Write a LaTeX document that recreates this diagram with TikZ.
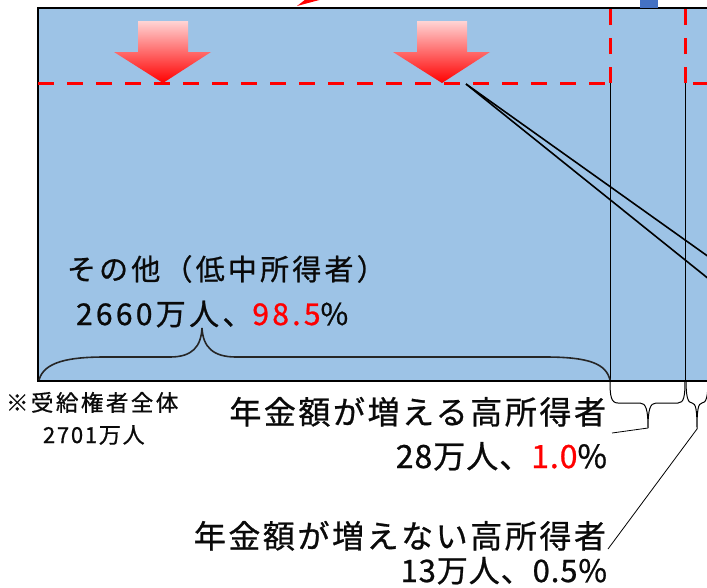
\documentclass[tikz,border=0pt]{standalone}
\usepackage{fontspec}
\setmainfont{Noto Sans CJK JP}
\newfontfamily\jp{Noto Sans CJK JP}[LetterSpace=8,FakeBold=0.8]
\newfontfamily\jpw{Noto Sans CJK JP}[LetterSpace=11,FakeBold=0.8]
\newfontfamily\jpn{Noto Sans CJK JP}[LetterSpace=3,FakeBold=0.8]
\definecolor{boxblue}{RGB}{157,195,230}
\definecolor{topblue}{RGB}{68,114,196}
\definecolor{pinktop}{RGB}{255,212,212}
\definecolor{txt}{RGB}{10,10,10}
\begin{document}
\begin{tikzpicture}[x=1pt,y=-1pt,
  redash/.style={draw=red, line width=3pt, dash pattern=on 16pt off 13pt},
  thin/.style={draw=black, line width=0.8pt},
  bracel/.style={draw=black, line width=1pt},
  bigbrace/.style={draw=black!85, line width=1.6pt},
  downarrow/.style={top color=pinktop, bottom color=red},
  lbl/.style={inner sep=0pt, outer sep=0pt, text=txt, font=\jp}
]
\useasboundingbox (0,0) rectangle (707,587);
\clip (0,0) rectangle (707,587);
% main box
\filldraw[fill=boxblue, draw=black, line width=2pt] (38,8) rectangle (730,380.5);
% top fragments
\fill[topblue] (640,-2) rectangle (658,8);
\fill[red] (297,6) -- (323,-1) -- (306,-1) -- cycle;
% thin verticals
\draw[thin] (610,83) -- (610,380.5);
\draw[thin] (685,83) -- (685,380.5);
% red dashed
\draw[redash] (38,83) -- (610,83);
\draw[redash] (610,83) -- (610,8);
\draw[redash] (685,83) -- (685,8);
\draw[redash, dash phase=21pt] (685,83) -- (730,83);
% arrows
\shade[downarrow] (138,21) -- (188,21) -- (188,52) -- (211,52) -- (163,83) -- (114,52) -- (138,52) -- cycle;
\shade[downarrow] (417,21) -- (467,21) -- (467,52) -- (490,52) -- (442,83) -- (393,52) -- (417,52) -- cycle;
% diagonal lines
\coordinate (dstart) at (466,84);
\coordinate (dend1) at (730,272);
\coordinate (dend2) at (730,296);
\draw[line width=1.6pt] (dstart) -- (dend1);
\draw[line width=1.6pt] (dstart) -- (dend2);
% big brace
\draw[bigbrace] (39,380) .. controls (44,362) and (68,357) .. (105,357) -- (170,357)
  .. controls (192,357) and (201,347) .. (202,328)
  .. controls (203,347) and (213,357) .. (236,357) -- (545,357)
  .. controls (590,357) and (606,364) .. (610,380);
% small braces
\coordinate (tip1) at (648,428);
\coordinate (tip2) at (697,429);
\draw[bracel] (610,381) .. controls (610,396) and (611,403) .. (618,403) -- (640,403)
  .. controls (646,403) and (648,410) .. (tip1)
  .. controls (648,410) and (650,403) .. (656,403) -- (678,403)
  .. controls (684,403) and (685,396) .. (685,381);
\draw[bracel] (686,381) .. controls (686,397) and (688,403) .. (692,403)
  .. controls (696,403) and (697,411) .. (tip2)
  .. controls (697,411) and (698,403) .. (702,403)
  .. controls (706,403) and (708,397) .. (708,381);
% labels
\node[lbl, anchor=base west, font=\jpw\fontsize{29}{32}\selectfont] (other) at (67,280) {その他（低中所得者）};
\node[lbl, anchor=base west, font=\jpw\fontsize{30}{34}\selectfont] (othern) at (76,325) {2660万人、\textcolor{red}{98.5}\%};
\node[lbl, anchor=base west, font=\jpw\fontsize{22.5}{26}\selectfont] (total) at (6,411) {※受給権者全体};
\node[lbl, anchor=base west, font=\jp\fontsize{22}{26}\selectfont] (totaln) at (43,443) {2701万人};
\node[lbl, anchor=base east, font=\jp\fontsize{32}{38}\selectfont] (up) at (606,424) {年金額が増える高所得者};
\node[lbl, anchor=base east, font=\jpn\fontsize{32}{38}\selectfont] (upn) at (607,468) {28万人、\textcolor{red}{1.0}\%};
\node[lbl, anchor=base east, font=\jp\fontsize{32}{38}\selectfont] (noup) at (606,548) {年金額が増えない高所得者};
\node[lbl, anchor=base east, font=\jpn\fontsize{31}{36}\selectfont] (noupn) at (607,582) {13万人、0.5\%};
% leader lines
\coordinate (l1) at (612,433);
\coordinate (l2) at (608,549);
\draw[line width=0.8pt] (l1) -- (tip1);
\draw[line width=0.8pt] (l2) -- (tip2);
\end{tikzpicture}
\end{document}
